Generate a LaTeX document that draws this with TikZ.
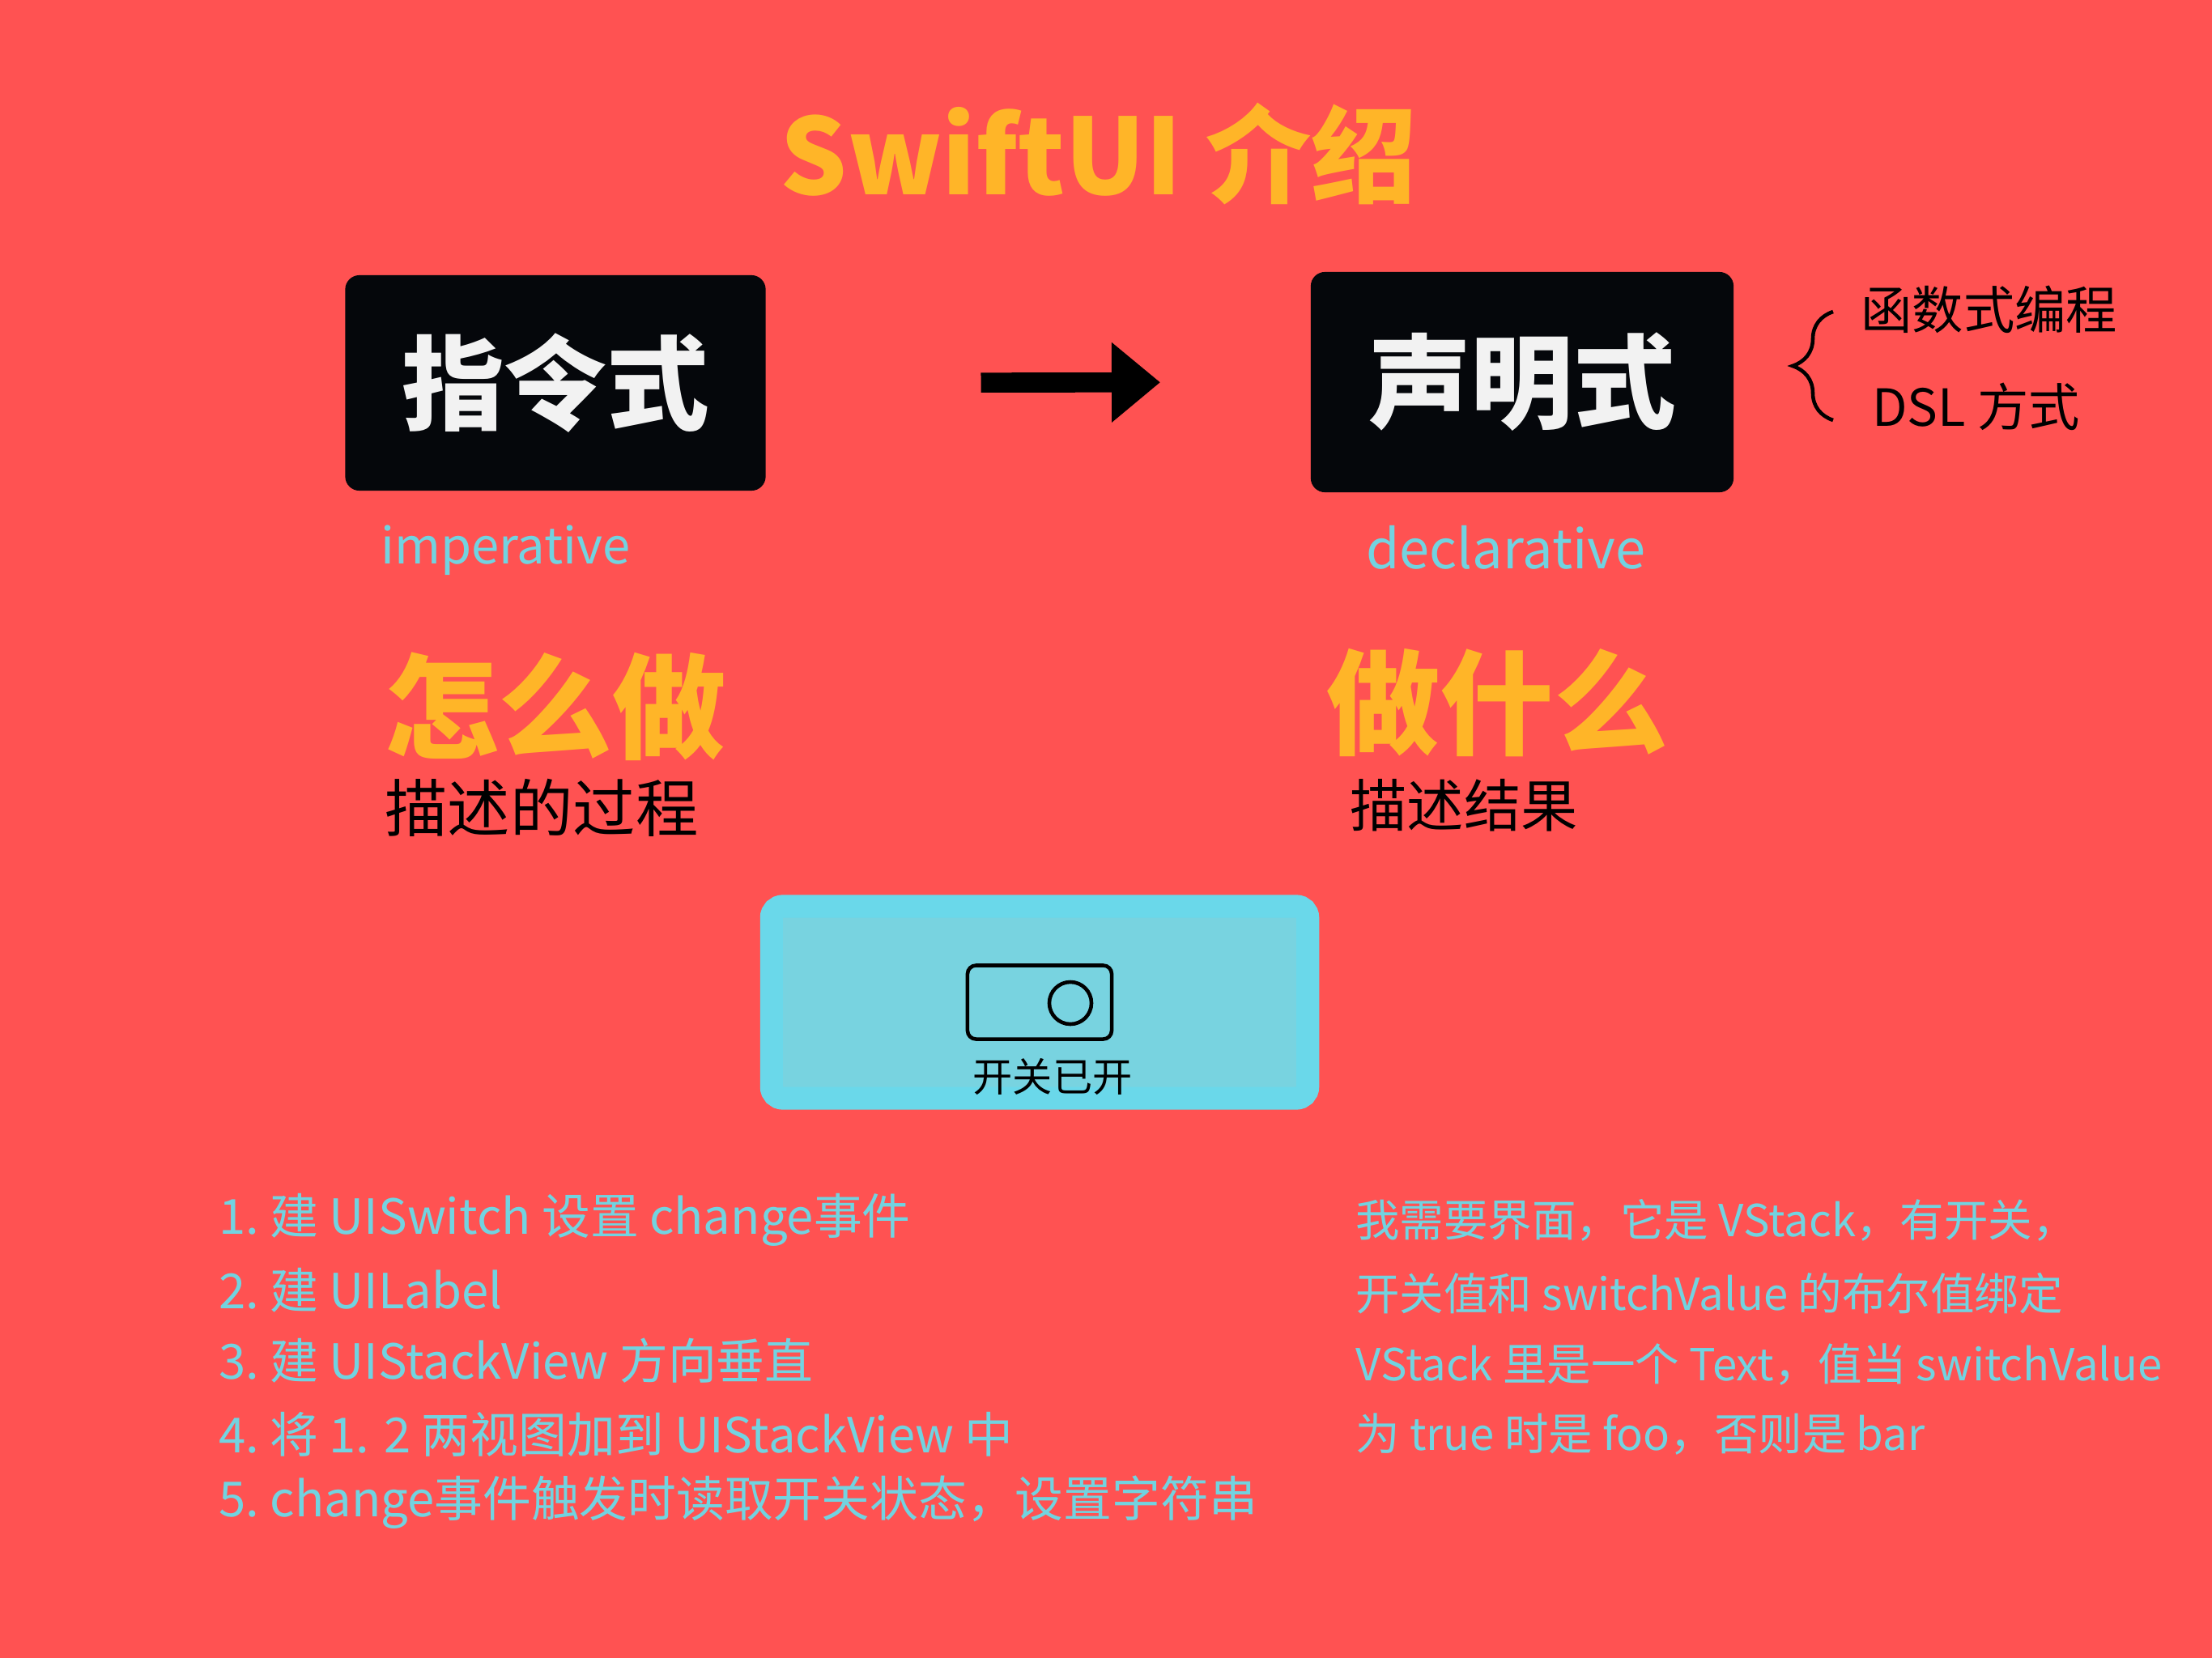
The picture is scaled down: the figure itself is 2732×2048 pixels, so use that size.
\documentclass[tikz,border=0pt]{standalone}
\usepackage{fontspec}
\newfontfamily\cjk{Noto Sans CJK SC}
\usetikzlibrary{arrows.meta,decorations.pathreplacing}
\definecolor{bgred}{RGB}{255,82,82}
\definecolor{titleorange}{RGB}{255,181,40}
\definecolor{cyantext}{RGB}{114,211,224}
\definecolor{cyanfill}{RGB}{120,211,224}
\definecolor{cyanedge}{RGB}{106,216,234}
\definecolor{boxblack}{RGB}{5,7,11}
\definecolor{boxwhite}{RGB}{242,242,242}
\begin{document}
\begin{tikzpicture}[x=0.01cm, y=-0.01cm,
    blackbox/.style={fill=boxblack, rounded corners=5pt, inner sep=0pt,
        text=boxwhite, font=\cjk\bfseries\fontsize{36}{40}\selectfont},
    bigword/.style={text=titleorange, font=\cjk\bfseries\fontsize{40}{44}\selectfont},
    blackword/.style={text=black, font=\cjk\fontsize{22}{26}\selectfont},
    engword/.style={anchor=west, text=cyantext, font=\cjk\fontsize{19}{23}\selectfont},
    leftline/.style={anchor=west, text=cyantext, font=\cjk\fontsize{17}{21}\selectfont},
    rightline/.style={anchor=west, text=cyantext, font=\cjk\fontsize{15.5}{19}\selectfont},
    bigarrow/.style={line width=7pt, -{Triangle[length=0.6cm, width=0.95cm]}}]
    % background
    \fill[bgred] (0,0) rectangle (2732,2048);
    % title
    \node[bigword, font=\cjk\bfseries\fontsize{37}{42}\selectfont] (title) at (1357,190) {SwiftUI 介绍};
    % imperative -> declarative
    \node[blackbox, minimum width=5.19cm, minimum height=2.66cm] (imp) at (686,473) {指令式};
    \node[blackbox, minimum width=5.22cm, minimum height=2.72cm] (decl) at (1880,472) {声明式};
    \draw[bigarrow, shorten <=2.65cm, shorten >=1.85cm] (imp.east) -- (decl.west);
    % brace with the two ways
    \node[anchor=west, font=\cjk\fontsize{18}{22}\selectfont] (func) at (2286,382) {函数式编程};
    \node[anchor=west, font=\cjk\fontsize{18}{22}\selectfont] (dsl) at (2300,502) {DSL 方式};
    \coordinate (braceTop) at (2264,385);
    \coordinate (braceBot) at (2264,519);
    \draw[line width=1.3pt, decorate, decoration={brace, amplitude=0.5cm}] (braceBot) -- (braceTop);
    \node[engword, font=\cjk\fontsize{17.5}{21}\selectfont] (impEn) at (458,680) {imperative};
    \node[engword] (declEn) at (1675,676) {declarative};
    % how / what
    \node[bigword] (how) at (686,873) {怎么做};
    \node[blackword] (howNote) at (669,998) {描述的过程};
    \node[bigword] (what) at (1849,868) {做什么};
    \node[blackword, font=\cjk\fontsize{20}{24}\selectfont] (whatNote) at (1808,995) {描述结果};
    % the switch example
    \node[fill=cyanfill, draw=cyanedge, line width=8pt, rounded corners=4pt,
        minimum width=6.62cm, minimum height=2.37cm] (panel) at (1284,1238) {};
    \node[draw=black, line width=1.3pt, rounded corners=3pt,
        minimum width=1.78cm, minimum height=0.91cm] (switch) at (1284,1238) {};
    \node[draw=black, line width=1.3pt, circle, minimum size=0.52cm] (knob) at (1322,1239) {};
    \node[font=\cjk\fontsize{14}{17}\selectfont] (switchText) at (1300,1330) {开关已开};
    % UIKit steps
    \node[leftline] (step1) at (258,1507) {1.\ 建 UISwitch 设置 change事件};
    \node[leftline] (step2) at (258,1594) {2.\ 建 UILabel};
    \node[leftline] (step3) at (258,1681) {3.\ 建 UIStackView 方向垂直};
    \node[leftline] (step4) at (258,1772) {4.\ 将 1. 2 两视图加到 UIStackView 中};
    \node[leftline] (step5) at (258,1856) {5.\ change事件触发时读取开关状态，设置字符串};
    % SwiftUI description
    \node[rightline] (say1) at (1662,1507) {我需要界面，它是 VStack，有开关，};
    \node[rightline] (say2) at (1662,1598) {开关值和 switchValue 的布尔值绑定};
    \node[rightline] (say3) at (1662,1685) {VStack 里是一个 Text，值当 switchValue};
    \node[rightline] (say4) at (1662,1772) {为 true 时是 foo，否则是 bar};
\end{tikzpicture}
\end{document}
